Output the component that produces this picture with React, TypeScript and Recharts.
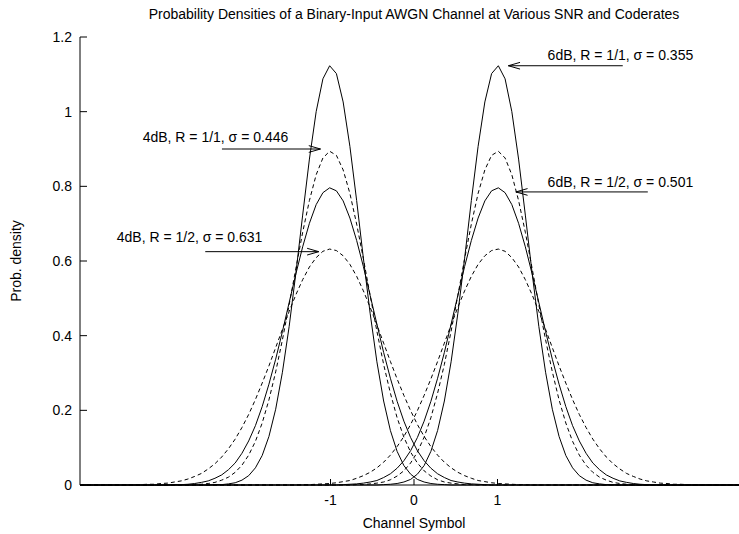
import React from "react"
import { LineChart, Line, XAxis, YAxis, ReferenceLine, ReferenceDot } from "recharts"

// sample points along the channel symbol axis (100 samples over [-4, 4])
const xs = [
  -4, -3.9192, -3.8384, -3.7576, -3.6768, -3.596, -3.5152, -3.4343, -3.3535, -3.2727,
  -3.1919, -3.1111, -3.0303, -2.9495, -2.8687, -2.7879, -2.7071, -2.6263, -2.5455, -2.4646,
  -2.3838, -2.303, -2.2222, -2.1414, -2.0606, -1.9798, -1.899, -1.8182, -1.7374, -1.6566,
  -1.5758, -1.4949, -1.4141, -1.3333, -1.2525, -1.1717, -1.0909, -1.0101, -0.9293, -0.8485,
  -0.7677, -0.6869, -0.6061, -0.5253, -0.4444, -0.3636, -0.2828, -0.202, -0.1212, -0.0404,
  0.0404, 0.1212, 0.202, 0.2828, 0.3636, 0.4444, 0.5253, 0.6061, 0.6869, 0.7677,
  0.8485, 0.9293, 1.0101, 1.0909, 1.1717, 1.2525, 1.3333, 1.4141, 1.4949, 1.5758,
  1.6566, 1.7374, 1.8182, 1.899, 1.9798, 2.0606, 2.1414, 2.2222, 2.303, 2.3838,
  2.4646, 2.5455, 2.6263, 2.7071, 2.7879, 2.8687, 2.9495, 3.0303, 3.1111, 3.1919,
  3.2727, 3.3535, 3.4343, 3.5152, 3.596, 3.6768, 3.7576, 3.8384, 3.9192, 4,
]

// densities of the curve around symbol -1 at each sample (the +1 curve is its mirror)
const sigma355 = [
  0, 0, 0, 0, 0, 0, 0, 0, 0, 0,
  0, 0, 0, 0, 0, 0, 0, 0, 0, 0,
  0.001, 0.001, 0.003, 0.006, 0.013, 0.025, 0.046, 0.079, 0.13, 0.203,
  0.302, 0.425, 0.569, 0.723, 0.873, 1.0, 1.088, 1.123, 1.102, 1.026,
  0.907, 0.762, 0.607, 0.46, 0.33, 0.225, 0.146, 0.09, 0.052, 0.029,
  0.015, 0.008, 0.004, 0.002, 0.001, 0, 0, 0, 0, 0,
  0, 0, 0, 0, 0, 0, 0, 0, 0, 0,
  0, 0, 0, 0, 0, 0, 0, 0, 0, 0,
  0, 0, 0, 0, 0, 0, 0, 0, 0, 0,
  0, 0, 0, 0, 0, 0, 0, 0, 0, 0,
]
const sigma446 = [
  0, 0, 0, 0, 0, 0, 0, 0, 0, 0,
  0, 0, 0, 0, 0, 0, 0.001, 0.001, 0.002, 0.004,
  0.007, 0.013, 0.021, 0.034, 0.053, 0.08, 0.117, 0.166, 0.228, 0.303,
  0.389, 0.483, 0.581, 0.677, 0.762, 0.831, 0.876, 0.894, 0.883, 0.844,
  0.781, 0.699, 0.606, 0.508, 0.412, 0.323, 0.246, 0.18, 0.128, 0.088,
  0.059, 0.038, 0.024, 0.014, 0.008, 0.005, 0.003, 0.001, 0.001, 0,
  0, 0, 0, 0, 0, 0, 0, 0, 0, 0,
  0, 0, 0, 0, 0, 0, 0, 0, 0, 0,
  0, 0, 0, 0, 0, 0, 0, 0, 0, 0,
  0, 0, 0, 0, 0, 0, 0, 0, 0, 0,
]
const sigma501 = [
  0, 0, 0, 0, 0, 0, 0, 0, 0, 0,
  0, 0, 0, 0, 0.001, 0.001, 0.002, 0.004, 0.007, 0.011,
  0.018, 0.027, 0.041, 0.059, 0.085, 0.118, 0.159, 0.21, 0.27, 0.337,
  0.411, 0.489, 0.566, 0.638, 0.701, 0.751, 0.783, 0.796, 0.788, 0.761,
  0.715, 0.655, 0.585, 0.508, 0.431, 0.355, 0.286, 0.224, 0.171, 0.127,
  0.092, 0.065, 0.045, 0.03, 0.02, 0.012, 0.008, 0.005, 0.003, 0.002,
  0.001, 0, 0, 0, 0, 0, 0, 0, 0, 0,
  0, 0, 0, 0, 0, 0, 0, 0, 0, 0,
  0, 0, 0, 0, 0, 0, 0, 0, 0, 0,
  0, 0, 0, 0, 0, 0, 0, 0, 0, 0,
]
const sigma631 = [
  0, 0, 0, 0, 0, 0, 0, 0, 0.001, 0.001,
  0.002, 0.002, 0.004, 0.005, 0.008, 0.011, 0.016, 0.023, 0.031, 0.043,
  0.057, 0.075, 0.097, 0.123, 0.154, 0.189, 0.229, 0.273, 0.319, 0.368,
  0.417, 0.465, 0.51, 0.55, 0.584, 0.609, 0.626, 0.632, 0.628, 0.614,
  0.591, 0.559, 0.52, 0.476, 0.429, 0.38, 0.331, 0.284, 0.24, 0.199,
  0.162, 0.13, 0.103, 0.08, 0.061, 0.046, 0.034, 0.025, 0.018, 0.012,
  0.009, 0.006, 0.004, 0.003, 0.002, 0.001, 0.001, 0, 0, 0,
  0, 0, 0, 0, 0, 0, 0, 0, 0, 0,
  0, 0, 0, 0, 0, 0, 0, 0, 0, 0,
  0, 0, 0, 0, 0, 0, 0, 0, 0, 0,
]

const xTicks = [-1, 0, 1]
const xTickLabels = ["-1", "0", "1"]
const yTicks = [0, 0.2, 0.4, 0.6, 0.8, 1, 1.2]
const yTickLabels = ["0", "0.2", "0.4", "0.6", "0.8", "1", "1.2"]

// annotations: text anchor and arrow (tail -> head), in data units
const annoTexts = [
  "6dB, R = 1/1, σ = 0.355",
  "6dB, R = 1/2, σ = 0.501",
  "4dB, R = 1/1, σ = 0.446",
  "4dB, R = 1/2, σ = 0.631",
]
const annoTextX = [1.6, 1.6, -3.25, -3.56]
const annoTextY = [1.138, 0.797, 0.918, 0.65]
const arrowFromX = [2.5, 2.8, -2.3, -2.5]
const arrowToX = [1.13, 1.22, -1.12, -1.14]
const arrowY = [1.123, 0.785, 0.9, 0.625]

const FONT = "'Liberation Sans', Arial, Helvetica, sans-serif"
const HEAD_LEN = 0.14
const HEAD_HALF = 0.009

const n = xs.length
const rows = xs.map((x, i) => ({
  x,
  s355m: sigma355[i],
  s355p: sigma355[n - 1 - i],
  s446m: sigma446[i],
  s446p: sigma446[n - 1 - i],
  s501m: sigma501[i],
  s501p: sigma501[n - 1 - i],
  s631m: sigma631[i],
  s631p: sigma631[n - 1 - i],
}))

const series = [
  { key: "s355m", dash: undefined },
  { key: "s355p", dash: undefined },
  { key: "s501m", dash: undefined },
  { key: "s501p", dash: undefined },
  { key: "s446m", dash: "4 3" },
  { key: "s446p", dash: "4 3" },
  { key: "s631m", dash: "4 3" },
  { key: "s631p", dash: "4 3" },
]

const YTick = (props: any) => {
  const { x, y, payload } = props
  const i = yTicks.indexOf(payload.value)
  return (
    <g>
      <line x1={x + 8} x2={x + 15} y1={y} y2={y} stroke="#000" />
      <text x={x} y={y} dy={5} textAnchor="end" fontSize={14} fill="#000">
        {yTickLabels[i]}
      </text>
    </g>
  )
}

const XTick = (props: any) => {
  const { x, y, payload } = props
  const i = xTicks.indexOf(payload.value)
  return (
    <g>
      <line x1={x} x2={x} y1={y} y2={y - 6} stroke="#000" />
      <text x={x} y={y + 20} textAnchor="middle" fontSize={14} fill="#000">
        {xTickLabels[i]}
      </text>
    </g>
  )
}

export default function App() {
  return (
    <div
      style={{
        position: "absolute",
        left: 0,
        top: 0,
        width: 739,
        height: 534,
        overflow: "hidden",
        background: "#fff",
        fontFamily: FONT,
      }}
    >
      <div
        style={{
          position: "absolute",
          left: 0,
          top: 6,
          width: 828,
          textAlign: "center",
          fontSize: 14,
          lineHeight: "16px",
          color: "#000",
        }}
      >
        Probability Densities of a Binary-Input AWGN Channel at Various SNR and Coderates
      </div>
      <LineChart width={760} height={534} data={rows} margin={{ top: 37, right: 12, bottom: 0, left: 20 }}>
        <XAxis
          type="number"
          dataKey="x"
          domain={[-4, 4]}
          ticks={xTicks}
          interval={0}
          height={49}
          tickSize={0}
          tickMargin={0}
          tickLine={false}
          axisLine={{ stroke: "#000" }}
          tick={<XTick />}
          label={{
            content: () => (
              <text x={414} y={528} textAnchor="middle" fontSize={14} fill="#000">
                Channel Symbol
              </text>
            ),
          }}
        />
        <YAxis
          type="number"
          domain={[0, 1.2]}
          ticks={yTicks}
          interval={0}
          width={60}
          tickSize={0}
          tickMargin={8}
          tickLine={false}
          axisLine={{ stroke: "#000" }}
          tick={<YTick />}
          label={{
            content: () => (
              <text
                x={16}
                y={261}
                transform="rotate(-90, 16, 261)"
                textAnchor="middle"
                dominantBaseline="central"
                fontSize={14}
                fill="#000"
              >
                Prob. density
              </text>
            ),
          }}
        />
        {series.map((s) => (
          <Line
            key={s.key}
            type="linear"
            dataKey={s.key}
            stroke="#000"
            strokeWidth={1}
            strokeDasharray={s.dash}
            dot={false}
            activeDot={false}
            isAnimationActive={false}
          />
        ))}
        {annoTexts.map((_, i) => {
          const dir = arrowFromX[i] > arrowToX[i] ? 1 : -1
          const hx = arrowToX[i] + dir * HEAD_LEN
          return (
            <React.Fragment key={`arrow-${i}`}>
              <ReferenceLine
                segment={[
                  { x: arrowFromX[i], y: arrowY[i] },
                  { x: arrowToX[i], y: arrowY[i] },
                ]}
                stroke="#000"
                ifOverflow="visible"
              />
              <ReferenceLine
                segment={[
                  { x: hx, y: arrowY[i] + HEAD_HALF },
                  { x: arrowToX[i], y: arrowY[i] },
                ]}
                stroke="#000"
                ifOverflow="visible"
              />
              <ReferenceLine
                segment={[
                  { x: hx, y: arrowY[i] - HEAD_HALF },
                  { x: arrowToX[i], y: arrowY[i] },
                ]}
                stroke="#000"
                ifOverflow="visible"
              />
            </React.Fragment>
          )
        })}
        {annoTexts.map((t, i) => (
          <ReferenceDot
            key={`label-${i}`}
            x={annoTextX[i]}
            y={annoTextY[i]}
            r={0}
            fill="none"
            stroke="none"
            ifOverflow="visible"
            label={{
              content: (p: any) => (
                <text x={p.viewBox.x} y={p.viewBox.y} fontSize={14} fill="#000">
                  {t}
                </text>
              ),
            }}
          />
        ))}
      </LineChart>
    </div>
  )
}
